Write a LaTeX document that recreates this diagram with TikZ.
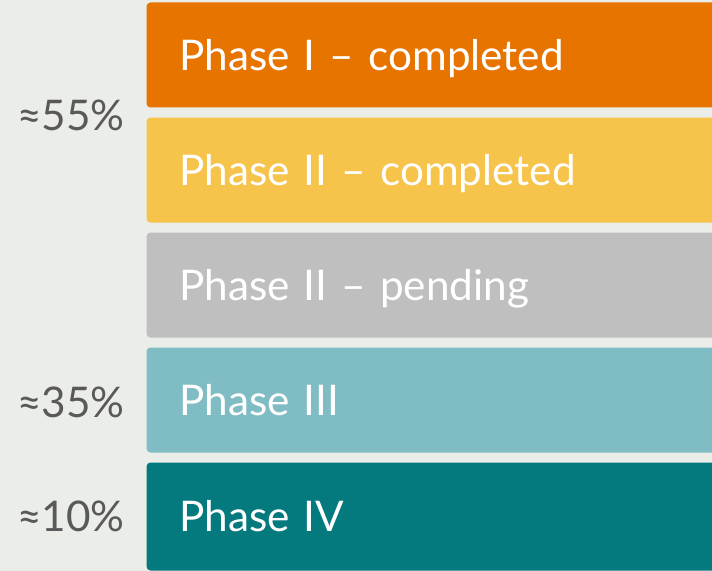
\documentclass[tikz,border=0pt]{standalone}
\usepackage{fontspec}
\setmainfont{Lato}
\usetikzlibrary{positioning}
\definecolor{pageback}{HTML}{EBEDE9}
\definecolor{phaseone}{HTML}{E87400}
\definecolor{phasetwo}{HTML}{F6C34B}
\definecolor{phasepend}{HTML}{BFBFBF}
\definecolor{phasethree}{HTML}{80BCC4}
\definecolor{phasefour}{HTML}{047A7E}
\definecolor{sharegray}{HTML}{595959}

\begin{document}
\begin{tikzpicture}[x=1bp,y=-1bp,
	phase/.style={
		minimum width=574bp,
		minimum height=105bp,
		text width=508bp,
		text height=30.5bp,
		text depth=0pt,
		inner xsep=33bp,
		inner ysep=0pt,
		outer sep=0pt,
		align=left,
		rounded corners=4bp,
		text=white,
		font=\fontsize{42.4}{48}\selectfont
	},
	share/.style={
		text=sharegray,
		inner sep=0pt,
		font=\fontsize{42.4}{48}\selectfont
	}]

% Page
\useasboundingbox (0,0) rectangle (712,571);
\fill[pageback] (0,0) rectangle (712,571);
\clip (0,0) rectangle (712,571);

% Phase I
\node [phase,
	fill=phaseone,
	anchor=north west
]  (p1) at (146.5,2.5) {
Phase I – completed
};

% Phase II
\node [phase,
	fill=phasetwo,
	below = 10bp of p1
]  (p2) {
Phase II – completed
};

% Phase II pending
\node [phase,
	fill=phasepend,
	below = 10bp of p2
]  (p3) {
Phase II – pending
};

% Phase III
\node [phase,
	fill=phasethree,
	below = 10bp of p3
]  (p4) {
Phase III
};

% Phase IV
\node [phase,
	fill=phasefour,
	minimum height=108bp,
	below = 10bp of p4
]  (p5) {
Phase IV
};

% Shares
\node [share, anchor=east] (s1) at ([xshift=-21.5bp,yshift=-8bp] p1.south west) {≈55\%};
\node [share, left = 21.5bp of p4.west, yshift=-2bp] (s2) {≈35\%};
\node [share, left = 21.5bp of p5.west] (s3) {≈10\%};

\end{tikzpicture}
\end{document}
